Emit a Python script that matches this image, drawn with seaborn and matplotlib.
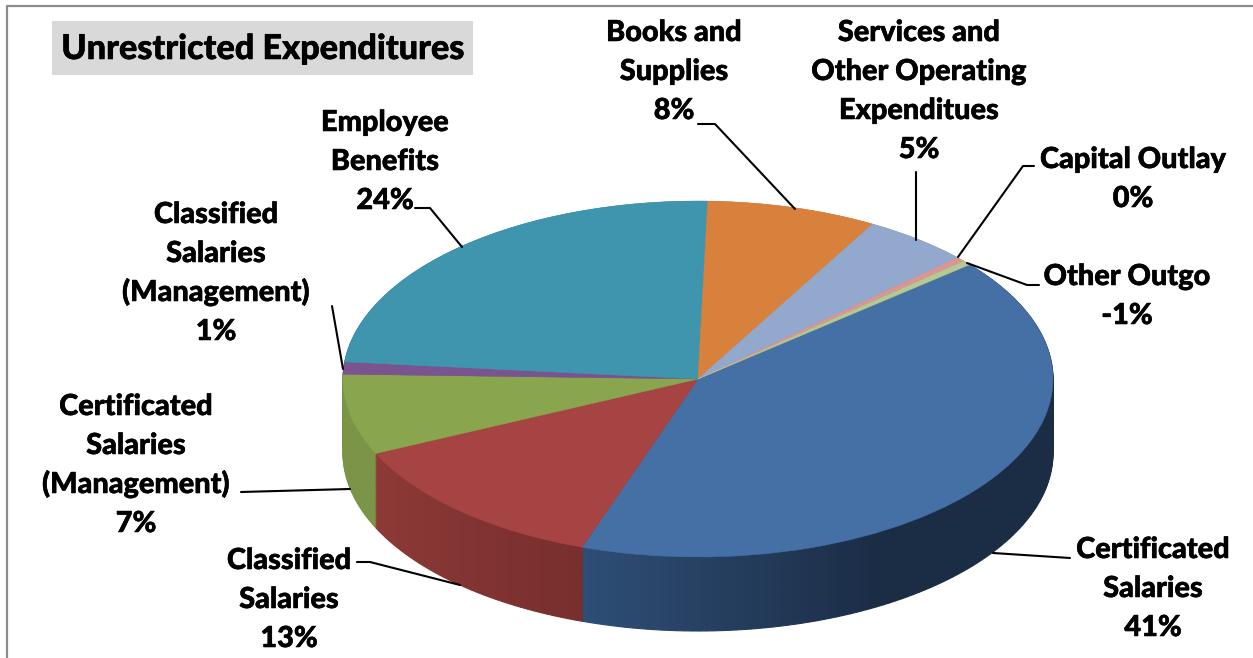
import numpy as np
import matplotlib
matplotlib.use('Agg')
import matplotlib.pyplot as plt
import matplotlib.patheffects as pe
import seaborn as sns

# slices, clockwise from the upper right
values = [41.4, 12.83, 7.3, 1.11, 23.9, 7.75, 4.86, 0.42, 0.42]
names = ['Certificated\nSalaries', 'Classified\nSalaries', 'Certificated\nSalaries\n(Management)',
         'Classified\nSalaries\n(Management)', 'Employee\nBenefits', 'Books and\nSupplies',
         'Services and\nOther Operating\nExpenditues', 'Capital Outlay', 'Other Outgo']
percents = ['41%', '13%', '7%', '1%', '24%', '8%', '5%', '0%', '-1%']
title = 'Unrestricted Expenditures'

top_colors = ['#4570A6', '#A54443', '#89A54E', '#7A5490', '#4095AE', '#D8813D', '#92A8CD', '#D99694', '#B5CA92']
# side colours along each slice (clockwise)
side_colors = [['#1B2C45', '#1B2C45', '#1B2C45', '#2E4E75'], ['#782F2E', '#8E3A37'], ['#7B9447', '#7B9447'],
               ['#6A4E80', '#6A4E80'], ['#367F94', '#367F94'], ['#B96F33', '#B96F33'], ['#7C8FAE', '#7C8FAE'],
               ['#B87F7E', '#B87F7E'], ['#1B2C45', '#1B2C45']]

# label centres in picture pixels
label_pos = [(1153, 587), (289, 598), (136, 463.5), (216, 271.5), (385, 160), (674, 70), (919, 89.5),
             (1133, 177.5), (1127, 294.5)]
leaders = [[(993, 553), (1070, 558)],
           [(357, 562), (370, 562), (460, 585)],
           [(241, 492), (350, 489)],
           [(332, 306), (343, 369)],
           [(415, 208), (430, 208), (462, 247)],
           [(698, 124), (715, 124), (795, 209)],
           [(916, 172), (916, 240)],
           [(1034, 166), (1023, 166), (958, 257)],
           [(1039, 285), (1027, 285), (967, 263)]]

W, H = 1253, 658
CX, CY, RX, RY, DEPTH = 698, 379, 355, 178, 74
SQUASH = RY / RX
START = 40
LINE_STEP = 39

sns.set_theme(style='white')
plt.rcParams['font.family'] = ['Lato', 'DejaVu Sans']

fig = plt.figure(figsize=(W / 100, H / 100), dpi=100, facecolor='white')
ax = fig.add_axes([0, 0, 1, 1])


def draw_pie(vals, cols, center_y, lw):
    wedges, _ = ax.pie(vals, colors=cols, startangle=START, counterclock=False, radius=RX,
                       center=(CX, center_y))
    for w in wedges:
        w.set_edgecolor(w.get_facecolor())
        w.set_linewidth(lw)


# side wall: the same pie stacked downwards, cut in thin parts for the shading
side_vals, side_cols = [], []
for val, stops in zip(values, side_colors):
    n = max(2, int(round(val * 3)))
    side_vals += [val / n] * n
    side_cols += list(sns.blend_palette(stops, n))

center_y = (H - CY) / SQUASH
for off in np.arange(DEPTH, 0, -1.5):
    draw_pie(side_vals, side_cols, center_y - off / SQUASH, 0.8)

draw_pie(values, top_colors, center_y, 0.3)
ax.set_aspect('auto')
ax.set_xlim(0, W)
ax.set_ylim(0, H / SQUASH)

# labels, leaders and frame in picture pixels
over = fig.add_axes([0, 0, 1, 1])
over.set_xlim(0, W)
over.set_ylim(H, 0)
over.axis('off')
stroke = [pe.withStroke(linewidth=0.4, foreground='black')]

for name, pct, (x, y), pts in zip(names, percents, label_pos, leaders):
    lines = f'{name}\n{pct}'.split('\n')
    for i, line in enumerate(lines):
        # one text per line so that the step stays even
        base = y + (i - (len(lines) - 1) / 2) * LINE_STEP + 10
        over.text(x, base, line, ha='center', va='baseline', fontsize=20.8, fontweight=900,
                  color='black', path_effects=stroke)
    xs, ys = zip(*pts)
    over.plot(xs, ys, color='black', lw=1.5)

over.add_patch(plt.Rectangle((52, 21), 421, 54, facecolor='#D9D9D9', edgecolor='none'))
over.text(263, 49, title, ha='center', va='center', fontsize=24.6, fontweight=900, color='black',
          path_effects=stroke)

over.plot([7, 7, W], [H, 5.5, 5.5], color='#8C8C8C', lw=1.6)

fig.savefig('out.png', dpi=100)
